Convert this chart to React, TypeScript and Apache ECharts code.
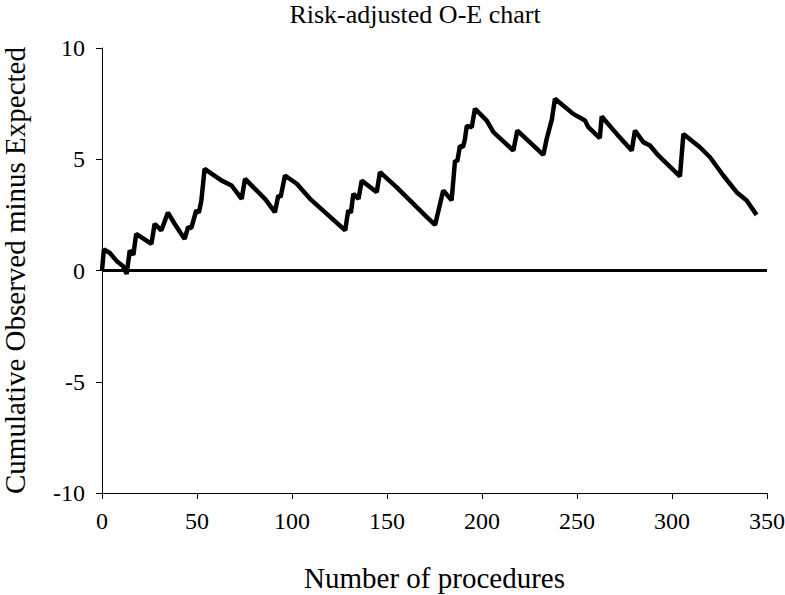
import React, { useEffect, useRef } from "react";
import * as echarts from "echarts";

const procedures = [
  0, 1, 4, 8, 11, 13, 14.6, 16.5, 18, 26, 27.7, 31.2, 34.7, 38.2, 43.5, 45.3, 47, 49.6, 51, 52.3, 54,
  63, 68.2, 73.5, 75.3, 80.5, 86, 91, 92.8, 94, 96.3, 102.5, 109.5, 128, 129.6, 131, 132.3, 135, 136.7,
  144.6, 146.3, 155, 171, 175.3, 179.6, 184, 185.8, 187, 188.4, 190, 191, 192, 194.6, 196.3, 202.5, 206,
  216.5, 218.6, 232.3, 234, 236.8, 238.4, 248, 254.2, 256, 262, 263, 270.9, 278.8, 280.5, 284.9, 288.4,
  292.8, 304.2, 306, 314.7, 320, 327, 334, 339.3, 344.5,
];
const observedMinusExpected = [
  0, 0.95, 0.8, 0.4, 0.2, -0.15, 0.9, 0.7, 1.65, 1.2, 2.1, 1.8, 2.6, 2.1, 1.42, 1.95, 1.9, 2.7, 2.6, 3.15, 4.57,
  4.04, 3.82, 3.22, 4.12, 3.67, 3.2, 2.62, 3.37, 3.3, 4.27, 3.9, 3.22, 1.8, 2.7, 2.6, 3.45, 3.22, 4.04,
  3.52, 4.42, 3.75, 2.4, 2.05, 3.6, 3.15, 4.94, 4.9, 5.6, 5.55, 5.9, 6.5, 6.44, 7.27, 6.74, 6.22,
  5.39, 6.29, 5.2, 5.9, 6.8, 7.72, 7.04, 6.74, 6.44, 5.95, 6.92, 6.14, 5.39, 6.29, 5.77, 5.62,
  5.17, 4.23, 6.14, 5.54, 5.09, 4.27, 3.52, 3.15, 2.5,
];
const xTicks = [0, 50, 100, 150, 200, 250, 300, 350];
const yTicks = [-10, -5, 0, 5, 10];

const FONT = '"Liberation Serif", "Times New Roman", serif';

export default function App() {
  const ref = useRef<HTMLDivElement>(null);
  useEffect(() => {
    if (!ref.current) return;
    const chart = echarts.init(ref.current, undefined, { renderer: "svg" });
    const data = procedures.map((p, i) => [p, observedMinusExpected[i]]);
    chart.setOption({
      animation: false,
      backgroundColor: "#ffffff",
      textStyle: { fontFamily: FONT, color: "#000" },
      title: {
        text: "Risk-adjusted O-E chart",
        left: 415,
        top: 1,
        padding: 0,
        textAlign: "center",
        textStyle: { fontFamily: FONT, fontWeight: "normal", fontSize: 26, color: "#000" },
      },
      grid: {
        left: 102,
        right: 18,
        top: 48,
        bottom: 102,
        containLabel: false,
        outerBoundsMode: "none",
      },
      xAxis: {
        type: "value",
        min: xTicks[0],
        max: xTicks[xTicks.length - 1],
        interval: 50,
        name: "Number of procedures",
        nameLocation: "middle",
        nameGap: 70,
        nameTextStyle: { fontFamily: FONT, fontSize: 29, color: "#000" },
        axisLine: { show: true, onZero: false, lineStyle: { color: "#000", width: 1 } },
        axisTick: { show: true, inside: false, length: 6, lineStyle: { color: "#000" } },
        axisLabel: { fontFamily: FONT, fontSize: 24, color: "#000", margin: 16 },
        splitLine: { show: false },
      },
      yAxis: {
        type: "value",
        min: yTicks[0],
        max: yTicks[yTicks.length - 1],
        interval: 5,
        name: "Cumulative Observed minus Expected",
        nameLocation: "middle",
        nameGap: 73,
        nameTextStyle: { fontFamily: FONT, fontSize: 29, color: "#000" },
        axisLine: { show: true, lineStyle: { color: "#000", width: 1 } },
        axisTick: { show: true, inside: false, length: 6, lineStyle: { color: "#000" } },
        axisLabel: { fontFamily: FONT, fontSize: 24, color: "#000", margin: 17 },
        splitLine: { show: false },
      },
      series: [
        {
          type: "line",
          data,
          showSymbol: false,
          symbol: "none",
          lineStyle: { color: "#000", width: 4.5 },
          z: 3,
          markLine: {
            silent: true,
            symbol: ["none", "none"],
            label: { show: false },
            lineStyle: { color: "#000", width: 3, type: "solid" },
            data: [{ yAxis: 0 }],
          },
        },
      ],
    });
    return () => chart.dispose();
  }, []);
  return (
    <div
      ref={ref}
      style={{ position: "fixed", left: 0, top: 0, width: 785, height: 595, background: "#fff" }}
    />
  );
}
